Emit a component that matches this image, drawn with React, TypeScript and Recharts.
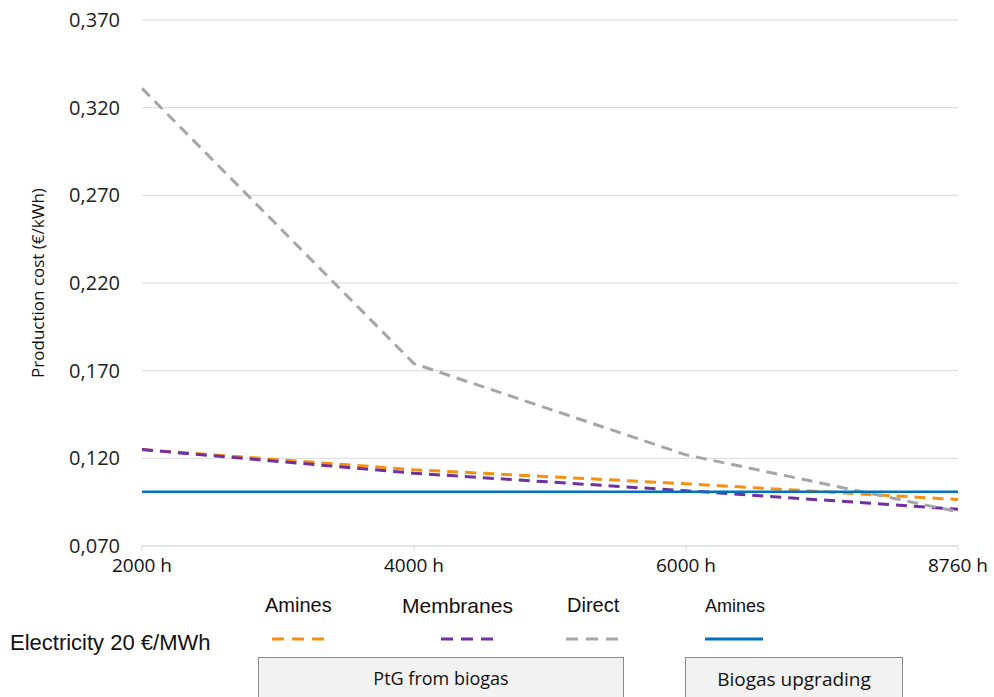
import { LineChart, Line, XAxis, YAxis, CartesianGrid, Label } from 'recharts'

const hours = ['2000 h', '4000 h', '6000 h', '8760 h']
const ptgAmines = [0.125, 0.1135, 0.1055, 0.0965]
const ptgMembranes = [0.125, 0.1115, 0.1015, 0.091]
const ptgDirect = [0.331, 0.174, 0.122, 0.0895]
const upgradingAmines = [0.101, 0.101, 0.101, 0.101]
const yTicks = [0.07, 0.12, 0.17, 0.22, 0.27, 0.32, 0.37]

const data = hours.map((h, i) => ({
  h,
  amines: ptgAmines[i],
  membranes: ptgMembranes[i],
  direct: ptgDirect[i],
  upgrading: upgradingAmines[i],
}))

const ORANGE = '#f7900f'
const PURPLE = '#7030a0'
const GREY = '#a6a6a6'
const BLUE = '#0070c0'

const legendText = { position: 'absolute' as const, fontFamily: '"Liberation Sans", Arial, sans-serif', fontSize: 20, color: '#111', whiteSpace: 'nowrap' as const }

function Swatch({ x, color, dashed }: { x: number; color: string; dashed?: boolean }) {
  return (
    <svg style={{ position: 'absolute', left: x, top: 634 }} width={60} height={10}>
      <line x1={0} y1={5} x2={58} y2={5} stroke={color} strokeWidth={3} strokeDasharray={dashed ? '12 8' : undefined} />
    </svg>
  )
}

const boxStyle = {
  position: 'absolute' as const,
  top: 657,
  height: 50,
  background: '#f2f2f2',
  border: '1px solid #8c8c8c',
  boxSizing: 'border-box' as const,
  fontFamily: '"Open Sans", sans-serif',
  fontSize: 18,
  textAlign: 'center' as const,
  paddingTop: 8,
  color: '#111',
}

export default function App() {
  return (
    <div style={{ position: 'absolute', left: 0, top: 0, width: 994, height: 697, background: '#fff', overflow: 'hidden' }}>
      <LineChart width={994} height={600} data={data} margin={{ top: 20, right: 36, left: 0, bottom: 14 }}>
        <CartesianGrid vertical={false} stroke="#d9d9d9" />
        <XAxis
          dataKey="h"
          scale="point"
          padding={{ left: 0, right: 0 }}
          height={40}
          stroke="#d9d9d9"
          tickSize={5}
          tickMargin={8}
          tick={{ fill: '#111', fontSize: 19, fontFamily: '"Open Sans", sans-serif' }}
        />
        <YAxis
          width={142}
          domain={[0.07, 0.37]}
          ticks={yTicks}
          axisLine={false}
          tickLine={false}
          tickSize={0}
          tickMargin={22}
          tickFormatter={(v: number) => v.toFixed(3).replace('.', ',')}
          tick={{ fill: '#222', fontSize: 20, fontFamily: '"Open Sans", sans-serif' }}
        >
          <Label
            value="Production cost (€/kWh)"
            angle={-90}
            position="insideLeft"
            offset={38}
            style={{ textAnchor: 'middle', fill: '#111', fontSize: 17, fontFamily: '"Open Sans", sans-serif' }}
          />
        </YAxis>
        <Line dataKey="amines" stroke={ORANGE} strokeWidth={3} strokeDasharray="11 7" dot={false} isAnimationActive={false} />
        <Line dataKey="membranes" stroke={PURPLE} strokeWidth={3} strokeDasharray="11 7" dot={false} isAnimationActive={false} />
        <Line dataKey="direct" stroke={GREY} strokeWidth={3} strokeDasharray="11 7" dot={false} isAnimationActive={false} />
        <Line dataKey="upgrading" stroke={BLUE} strokeWidth={2.5} dot={false} isAnimationActive={false} />
      </LineChart>

      <div style={{ ...legendText, left: 265, top: 594 }}>Amines</div>
      <div style={{ ...legendText, left: 402, top: 594, fontSize: 21 }}>Membranes</div>
      <div style={{ ...legendText, left: 567, top: 594 }}>Direct</div>
      <div style={{ ...legendText, left: 705, top: 596, fontSize: 18 }}>Amines</div>
      <div style={{ ...legendText, left: 10, top: 630, fontSize: 22 }}>Electricity 20 €/MWh</div>

      <Swatch x={272} color={ORANGE} dashed />
      <Swatch x={441} color={PURPLE} dashed />
      <Swatch x={566} color={GREY} dashed />
      <Swatch x={705} color={BLUE} />

      <div style={{ ...boxStyle, left: 258, width: 366 }}>PtG from biogas</div>
      <div style={{ ...boxStyle, left: 685, width: 218, fontSize: 19 }}>Biogas upgrading</div>
    </div>
  )
}
